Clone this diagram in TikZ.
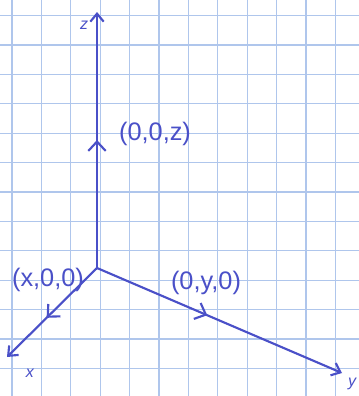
\documentclass[tikz,border=0pt]{standalone}
\usepackage{fontspec}
\setmainfont{Liberation Sans}
\usetikzlibrary{arrows.meta,decorations.markings}
\definecolor{penblue}{HTML}{4A50C8}
\definecolor{gridblue}{HTML}{AFC6EC}
\tikzset{
  pen/.style={draw=penblue, line width=1.6pt, line cap=round},
  axis/.style={pen, -{Straight Barb[length=6pt,width=10pt]}, postaction=decorate,
    decoration={markings, mark=at position #1 with {\arrow[penblue,line width=1.6pt]{Straight Barb[length=7pt,width=13pt]}}}},
  axislabel/.style={text=penblue, font=\large\itshape, inner sep=1pt},
  pointlabel/.style={text=penblue, font=\fontsize{19}{20}\selectfont, inner sep=1pt}
}
\begin{document}
\begin{tikzpicture}[x=0.75pt,y=-0.75pt]
  \useasboundingbox (0,0) rectangle (359,396);
  % squared paper
  \fill[white] (0,0) rectangle (359,396);
  \foreach \i in {0,...,11}
    \draw[gridblue, line width=0.9pt] (12+29.4*\i,0) -- (12+29.4*\i,396);
  \foreach \j in {0,...,12}
    \draw[gridblue, line width=0.9pt] (0,15.5+29.4*\j) -- (359,15.5+29.4*\j);

  \coordinate (O) at (97,268);
  \coordinate (Z) at (97,12);
  \coordinate (X) at (7,357);
  \coordinate (Y) at (342,373);

  % axes with a mark half way
  \draw[axis=0.5] (O) -- (Z);
  \draw[axis=0.56] (O) -- (X);
  \draw[axis=0.45] (O) -- (Y);

  \node[axislabel] (zlab) at (84,25) {z};
  \node[axislabel] (xlab) at (30,373) {x};
  \node[axislabel] (ylab) at (352,384) {y};

  \node[pointlabel] (pz) at (155,134) {(0,0,z)};
  \node[pointlabel] (px) at (48,280) {(x,0,0)};
  \node[pointlabel] (py) at (206,283) {(0,y,0)};
\end{tikzpicture}
\end{document}
